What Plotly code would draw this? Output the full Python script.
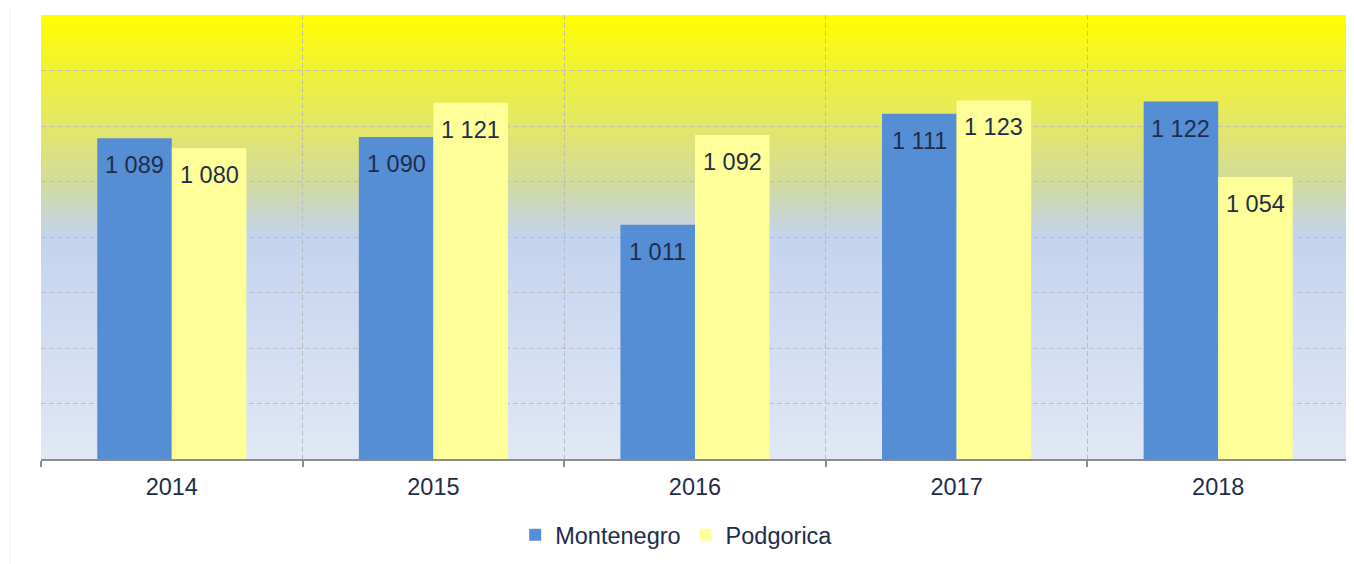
import plotly.graph_objects as go

years = ["2014", "2015", "2016", "2017", "2018"]
montenegro = [1089, 1090, 1011, 1111, 1122]
podgorica = [1080, 1121, 1092, 1123, 1054]
series_names = ["Montenegro", "Podgorica"]

BLUE = "#558ED5"
YELLOW = "#FFFF99"
TXT = "#1F2D4A"
FONT = "Arial, Liberation Sans, sans-serif"

# page body has an 8px margin, so the figure is sized to fit the window
OFF = 8
W, H = 1354 - OFF, 564 - OFF
ML, MR, MT, MB = 41 - OFF, 5, 15 - OFF, 105
plot_w = W - ML - MR
plot_h = H - MT - MB
bargap = 0.43
bar_px = plot_w / len(years) * (1 - bargap) / 2

fig = go.Figure()
fig.add_trace(go.Bar(x=years, y=montenegro, name=series_names[0],
                     marker=dict(color=BLUE, line=dict(width=0))))
fig.add_trace(go.Bar(x=years, y=podgorica, name=series_names[1],
                     marker=dict(color=YELLOW, line=dict(width=0))))

# value labels inside top of bars
annotations = []
for vals, sh in ((montenegro, -bar_px / 2), (podgorica, bar_px / 2)):
    for i, v in enumerate(vals):
        annotations.append(dict(
            x=i, y=v, xref="x", yref="y", xshift=sh, yshift=-27,
            text=f"{v:,}".replace(",", " "), showarrow=False,
            xanchor="center", yanchor="middle",
            font=dict(size=23.5, color=TXT, family=FONT)))

# vertical gradient background (styling only)
stops = [(0.0, (0xE1, 0xE8, 0xF5)), (0.5, (0xC4, 0xD3, 0xEE)),
         (0.56, (0xC9, 0xD6, 0xC8)), (0.625, (0xD3, 0xDB, 0x9C)),
         (0.75, (0xE3, 0xE7, 0x68)), (0.875, (0xF0, 0xF1, 0x36)),
         (1.0, (0xFF, 0xFF, 0x00))]

def col_at(t):
    for (a, ca), (b, cb) in zip(stops[:-1], stops[1:]):
        if a <= t <= b:
            f = (t - a) / (b - a)
            c = [round(ca[i] + (cb[i] - ca[i]) * f) for i in range(3)]
            return "rgb(%d,%d,%d)" % tuple(c)
    return "rgb(255,255,0)"

shapes = []
N = 148
for i in range(N):
    y0 = i / N
    y1 = (i + 1) / N
    shapes.append(dict(type="rect", xref="paper", yref="paper", x0=0, x1=1,
                       y0=y0, y1=min(1, y1 + 0.002), fillcolor=col_at((y0 + y1) / 2),
                       line=dict(width=0), layer="below"))
# faint outer chart border on the left
bx = (10 - 41) / plot_w
shapes.append(dict(type="line", xref="paper", yref="paper",
                   x0=bx, x1=bx, y0=-MB / plot_h, y1=1 + MT / plot_h,
                   line=dict(color="#F0F0F0", width=1), layer="below"))

fig.update_layout(
    width=W, height=H,
    margin=dict(l=ML, r=MR, t=MT, b=MB, pad=0),
    paper_bgcolor="white", plot_bgcolor="rgba(0,0,0,0)",
    barmode="group", bargap=bargap, bargroupgap=0,
    font=dict(family=FONT, size=23.5, color=TXT),
    showlegend=True,
    legend=dict(orientation="h", x=0.486, xanchor="center",
                y=-(535 - 459) / plot_h, yanchor="middle",
                font=dict(size=23.5, color=TXT), itemwidth=30,
                traceorder="normal", bgcolor="rgba(0,0,0,0)"),
    shapes=shapes, annotations=annotations,
    xaxis=dict(type="category", range=[-0.5, len(years) - 0.5], autorange=False,
               tickson="boundaries", showgrid=True,
               gridcolor="#BDBDBD", griddash="5px,3px", gridwidth=1,
               showline=True, linecolor="#8C8C8C", linewidth=1.5,
               ticks="outside", ticklen=6, tickcolor="#8C8C8C", tickwidth=1.5,
               tickangle=0, automargin=False,
               tickfont=dict(size=23.5, color=TXT), ticklabelstandoff=6),
    yaxis=dict(range=[800, 1200], autorange=False, dtick=50, tick0=800, showgrid=True,
               gridcolor="#BDBDBD", griddash="5px,3px", gridwidth=1,
               showticklabels=False, zeroline=False, showline=False,
               ticks="", automargin=False),
)

fig.write_html("out.html")
